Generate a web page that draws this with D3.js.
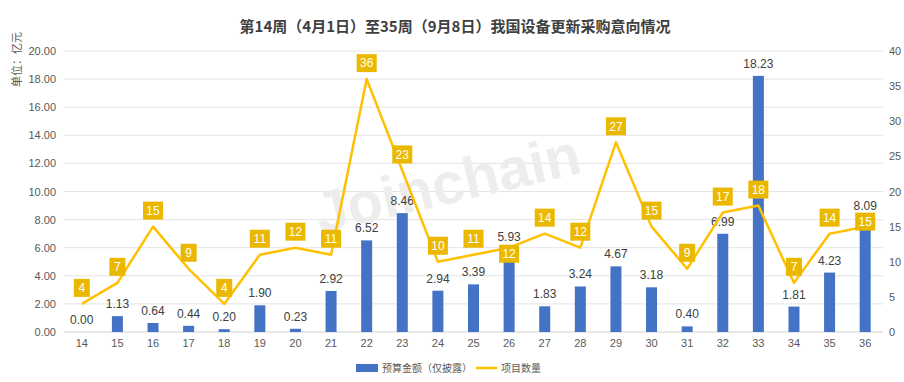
<!DOCTYPE html>
<html>
<head>
<meta charset="utf-8">
<script src="https://cdn.jsdelivr.net/npm/d3@7"></script>
<style>
  body { margin: 0; background: #fff; }
  text { font-family: "Liberation Sans", Arial, "Noto Sans CJK SC", sans-serif; }
</style>
</head>
<body>
<div id="chart"></div>
<script>
const weeks = ["14","15","16","17","18","19","20","21","22","23","24","25","26","27","28","29","30","31","32","33","34","35","36"];
const budget = [0.00,1.13,0.64,0.44,0.20,1.90,0.23,2.92,6.52,8.46,2.94,3.39,5.93,1.83,3.24,4.67,3.18,0.40,6.99,18.23,1.81,4.23,8.09];
const projects = [4,7,15,9,4,11,12,11,36,23,10,11,12,14,12,27,15,9,17,18,7,14,15];
const leftTicks = [0,2,4,6,8,10,12,14,16,18,20];
const rightTicks = [0,5,10,15,20,25,30,35,40];

const W = 904, H = 382;
const margin = { top: 51, right: 21, bottom: 50, left: 64 };

const svg = d3.select("#chart").append("svg")
    .attr("width", W).attr("height", H);

const x = d3.scaleBand()
    .domain(weeks)
    .range([margin.left, W - margin.right]);

const yL = d3.scaleLinear().domain([0, 20]).range([H - margin.bottom, margin.top]);
const yR = d3.scaleLinear().domain([0, 40]).range([H - margin.bottom, margin.top]);

// title
svg.append("text")
    .attr("x", 455).attr("y", 32)
    .attr("text-anchor", "middle")
    .attr("font-size", 15).attr("font-weight", "bold")
    .attr("fill", "#404040")
    .style("font-family", "'Noto Sans CJK SC', sans-serif")
    .text("第14周（4月1日）至35周（9月8日）我国设备更新采购意向情况");

// grid
svg.append("g").selectAll("line")
    .data(leftTicks)
    .join("line")
    .attr("x1", margin.left).attr("x2", W - margin.right)
    .attr("y1", d => yL(d)).attr("y2", d => yL(d))
    .attr("stroke", d => d === 0 ? "#d0d0d0" : "#e4e4e4")
    .attr("stroke-width", 1);

// left axis
const axL = svg.append("g")
    .attr("transform", `translate(${margin.left},0)`)
    .call(d3.axisLeft(yL).tickValues(leftTicks).tickFormat(d3.format(".2f")).tickSize(0).tickPadding(8));
axL.select(".domain").remove();
axL.selectAll("text").attr("font-size", 11).attr("fill", "#595959");

// right axis
const axR = svg.append("g")
    .attr("transform", `translate(${W - margin.right},0)`)
    .call(d3.axisRight(yR).tickValues(rightTicks).tickSize(0).tickPadding(6));
axR.select(".domain").remove();
axR.selectAll("text").attr("font-size", 11).attr("fill", "#595959");

// x axis
const axX = svg.append("g")
    .attr("transform", `translate(0,${H - margin.bottom})`)
    .call(d3.axisBottom(x).tickSize(0).tickPadding(7));
axX.select(".domain").remove();
axX.selectAll("text").attr("font-size", 11).attr("fill", "#595959");

// y unit label
svg.append("text")
    .attr("transform", "translate(21,32) rotate(-90)")
    .attr("text-anchor", "end")
    .attr("font-size", 11).attr("fill", "#595959")
    .style("font-family", "'Noto Sans CJK SC', sans-serif")
    .text("单位：亿元");

// watermark
svg.append("text")
    .attr("transform", "translate(452,203) rotate(-13)")
    .attr("text-anchor", "middle")
    .attr("font-size", 58).attr("font-weight", "bold")
    .attr("fill", "#ededed")
    .text("Joinchain");

const bw = 11;
// bars
svg.append("g").selectAll("rect")
    .data(budget)
    .join("rect")
    .attr("x", (d, i) => x(weeks[i]) + x.bandwidth() / 2 - bw / 2)
    .attr("y", d => yL(d))
    .attr("width", bw)
    .attr("height", d => yL(0) - yL(d))
    .attr("fill", "#4472C4");

// bar labels
svg.append("g").selectAll("text")
    .data(budget)
    .join("text")
    .attr("x", (d, i) => x(weeks[i]) + x.bandwidth() / 2)
    .attr("y", d => yL(d) - 8)
    .attr("text-anchor", "middle")
    .attr("font-size", 12).attr("fill", "#404040")
    .text(d => d.toFixed(2));

// line
const line = d3.line()
    .x((d, i) => x(weeks[i]) + x.bandwidth() / 2)
    .y(d => yR(d));

svg.append("path")
    .datum(projects)
    .attr("d", line)
    .attr("fill", "none")
    .attr("stroke", "#FFC000")
    .attr("stroke-width", 2.5)
    .attr("stroke-linejoin", "round");

// line labels (two were nudged down in the original to clear bar labels)
const nudge = { "26": 6, "36": -5 };
const lab = svg.append("g").selectAll("g")
    .data(projects)
    .join("g")
    .attr("transform", (d, i) => {
        const dy = nudge[weeks[i]] !== undefined ? nudge[weeks[i]] : -16;
        return `translate(${x(weeks[i]) + x.bandwidth() / 2},${yR(d) + dy})`;
    });

lab.append("rect")
    .attr("x", d => d >= 10 ? -10 : -8)
    .attr("y", -9)
    .attr("width", d => d >= 10 ? 20 : 16)
    .attr("height", 18)
    .attr("fill", "#EBB800");

lab.append("text")
    .attr("text-anchor", "middle")
    .attr("dy", "0.36em")
    .attr("font-size", 12).attr("fill", "#fff")
    .text(d => d);

// legend
const leg = svg.append("g").attr("transform", "translate(0,368)");
leg.append("rect").attr("x", 356).attr("y", -4).attr("width", 22).attr("height", 8).attr("fill", "#4472C4");
leg.append("text").attr("x", 382).attr("y", 0).attr("dy", "0.35em")
    .attr("font-size", 10).attr("fill", "#595959")
    .style("font-family", "'Noto Sans CJK SC', sans-serif")
    .text("预算金额（仅披露）");
leg.append("line").attr("x1", 476).attr("x2", 497).attr("y1", 0).attr("y2", 0)
    .attr("stroke", "#FFC000").attr("stroke-width", 2.5);
leg.append("text").attr("x", 501).attr("y", 0).attr("dy", "0.35em")
    .attr("font-size", 10).attr("fill", "#595959")
    .style("font-family", "'Noto Sans CJK SC', sans-serif")
    .text("项目数量");
</script>
</body>
</html>
